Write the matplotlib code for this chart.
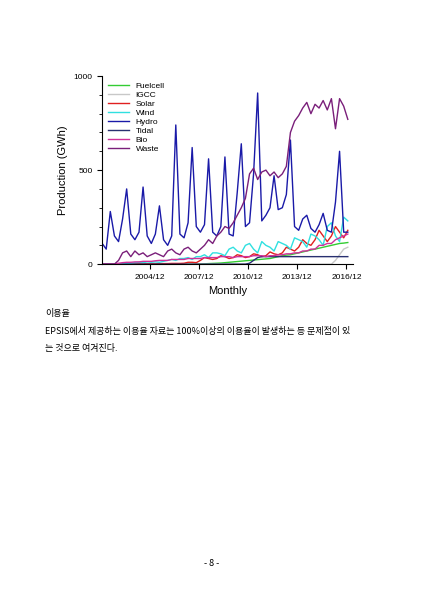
import pandas as pd
import matplotlib
matplotlib.use('Agg')
import matplotlib.pyplot as plt
import matplotlib.dates as mdates

plt.rcParams['font.family'] = ['Liberation Sans', 'DejaVu Sans']

# quarterly readings, 2002 Q1 .. 2017 Q1 (GWh)
hydro = [110, 80, 280, 150, 120, 240, 400, 160, 130, 170, 410, 150, 110, 160, 310, 130,
         100, 150, 740, 160, 140, 220, 620, 200, 170, 210, 560, 170, 150, 200, 570, 160,
         150, 380, 640, 200, 220, 480, 910, 230, 260, 300, 470, 290, 300, 370, 660, 200,
         180, 240, 260, 190, 170, 210, 270, 180, 170, 330, 600, 170, 170]
waste = [0, 0, 0, 0, 20, 60, 70, 40, 70, 50, 60, 40, 50, 60, 50, 40,
         70, 80, 60, 50, 80, 90, 70, 60, 80, 100, 130, 110, 150, 170, 200, 190,
         220, 260, 300, 350, 480, 510, 450, 490, 500, 470, 490, 460, 480, 520, 700, 760,
         790, 830, 860, 800, 850, 830, 870, 820, 880, 720, 880, 840, 770]
wind = [0, 0, 0, 0, 2, 3, 4, 5, 8, 10, 8, 12, 10, 12, 10, 15,
        20, 25, 20, 30, 30, 35, 25, 40, 40, 50, 35, 60, 60, 55, 45, 80,
        90, 70, 60, 100, 110, 80, 60, 120, 100, 90, 70, 120, 110, 100, 80, 140,
        130, 120, 90, 160, 150, 130, 100, 200, 220, 150, 120, 250, 230]
solar = [0, 0, 0, 0, 0, 0, 1, 1, 1, 1, 2, 2, 2, 2, 3, 3,
         3, 4, 4, 4, 5, 10, 10, 8, 20, 35, 30, 25, 30, 45, 40, 30,
         35, 50, 45, 35, 40, 55, 50, 40, 45, 65, 55, 50, 60, 90, 80, 70,
         90, 130, 110, 100, 130, 180, 150, 120, 150, 200, 170, 140, 180]
bio = [0, 0, 0, 0, 5, 8, 10, 10, 12, 12, 15, 15, 15, 18, 20, 20,
       20, 25, 25, 25, 25, 30, 30, 30, 30, 35, 35, 35, 35, 40, 40, 40,
       35, 40, 40, 40, 40, 45, 45, 45, 40, 45, 45, 50, 50, 55, 55, 60,
       60, 70, 70, 80, 80, 100, 100, 110, 110, 130, 140, 150, 160]
tidal = [0] * 36 + [5, 20, 35, 40, 40, 40, 40, 40, 40, 40, 40, 40, 40, 40, 40, 40,
                    40, 40, 40, 40, 40, 40, 40, 40, 40]
fuelcell = [0] * 24 + [1, 2, 3, 4, 5, 6, 8, 10, 12, 14, 16, 18, 20, 22, 24, 26,
                       28, 30, 35, 40, 45, 48, 50, 55, 60, 65, 70, 75, 80, 85, 90, 95,
                       100, 105, 110, 112, 115]
igcc = [0] * 57 + [20, 50, 80, 90]

dates = pd.date_range('2002-01-01', periods=len(hydro), freq='QS')

fig = plt.figure(figsize=(4.24, 5.99), dpi=100)
ax = fig.add_axes([0.241, 0.559, 0.592, 0.314])

series = [('Fuelcell', fuelcell, '#33cc33'), ('IGCC', igcc, '#c8c8c8'),
          ('Solar', solar, '#e02020'), ('Wind', wind, '#30e0e0'),
          ('Hydro', hydro, '#1a1aa8'), ('Tidal', tidal, '#283070'),
          ('Bio', bio, '#d0309a'), ('Waste', waste, '#7a1f7a')]
for name, vals, col in series:
    n = min(len(vals), len(dates))
    ax.plot(dates[:n], vals[:n], color=col, lw=1.0, label=name)

ax.set_ylim(0, 1000)
ax.set_yticks([0, 500, 1000])
ax.set_yticks([100, 200, 300, 400, 600, 700, 800, 900], minor=True)
ax.set_xlim(pd.Timestamp('2002-01-01'), pd.Timestamp('2017-05-01'))
ax.set_xticks([pd.Timestamp(f'{y}-12-01') for y in [2004, 2007, 2010, 2013, 2016]])
ax.xaxis.set_major_formatter(mdates.DateFormatter('%Y/%m'))
ax.tick_params(labelsize=6)
for s in ['top', 'right']:
    ax.spines[s].set_visible(False)
ax.set_xlabel('Monthly', fontsize=8)
ax.set_ylabel('Production (GWh)', fontsize=8)
ax.legend(loc='upper left', fontsize=6, frameon=False, handlelength=2.5,
          labelspacing=0.15, borderaxespad=0.3)

kr = ['Noto Sans CJK KR', 'DejaVu Sans']
fig.text(0.106, 0.472, '이용율', fontsize=6.5, family=kr)
fig.text(0.106, 0.443, 'EPSIS에서 제공하는 이용율 자료는 100%이상의 이용율이 발생하는 등 문제점이 있',
         fontsize=6.5, family=kr)
fig.text(0.106, 0.414, '는 것으로 여겨진다.', fontsize=6.5, family=kr)
fig.text(0.5, 0.055, '- 8 -', fontsize=6.5, ha='center', family=kr)

fig.savefig('out.png', dpi=100)
